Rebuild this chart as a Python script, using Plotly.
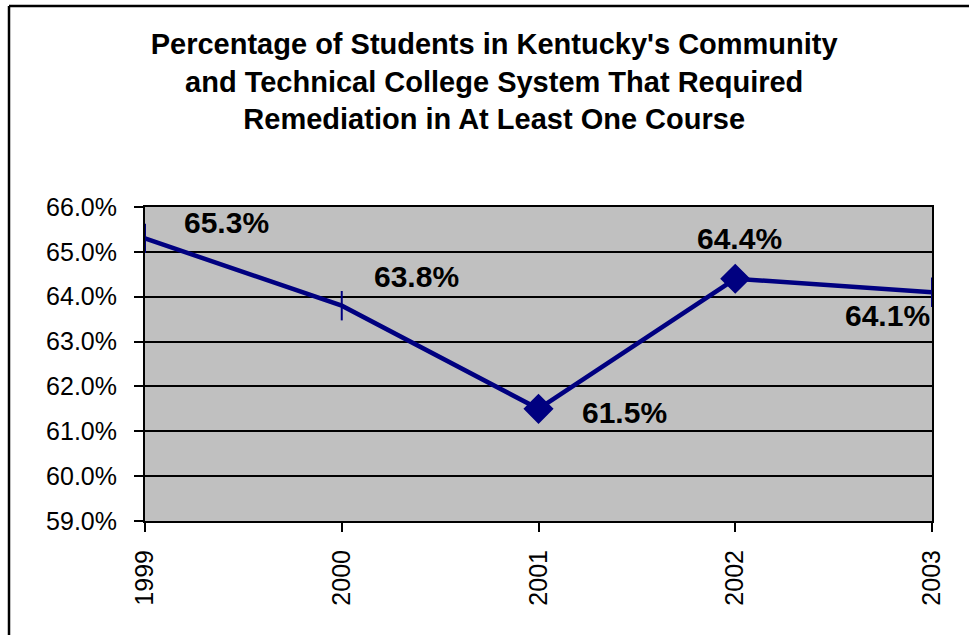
import plotly.graph_objects as go

years = ["1999", "2000", "2001", "2002", "2003"]
values = [65.3, 63.8, 61.5, 64.4, 64.1]
labels = ["65.3%", "63.8%", "61.5%", "64.4%", "64.1%"]
symbols = ["line-ns", "line-ns", "diamond", "diamond", "line-ns"]
# label offsets in pixels (x, y)
label_dx = [81, 75, 86, 4, -45]
label_dy = [16, 29, -4, 40, -23]
yticks = [59, 60, 61, 62, 63, 64, 65, 66]
ytick_text = ["59.0%", "60.0%", "61.0%", "62.0%", "63.0%", "64.0%", "65.0%", "66.0%"]

FONT = "Liberation Sans, Arial, sans-serif"
NAVY = "#000080"

x_idx = list(range(len(years)))

fig = go.Figure()
fig.add_trace(go.Scatter(
    x=x_idx, y=values, mode="lines+markers",
    line=dict(color=NAVY, width=4.5),
    marker=dict(symbol=symbols, size=21, color=NAVY,
                line=dict(color=NAVY, width=2)),
    cliponaxis=False, showlegend=False, hoverinfo="skip",
))

for xi, v, t, dx, dy in zip(x_idx, values, labels, label_dx, label_dy):
    fig.add_annotation(x=xi, y=v, xref="x", yref="y", text="<b>" + t + "</b>",
                       showarrow=False, xshift=dx, yshift=dy,
                       font=dict(family=FONT, size=30, color="black"))

# outer chart border (left + top visible)
fig.add_shape(type="line", xref="paper", yref="paper",
              x0=-0.1728, x1=-0.1728, y0=-0.4, y1=1.64,
              line=dict(color="black", width=2.5), layer="above")
fig.add_shape(type="line", xref="paper", yref="paper",
              x0=-0.1728, x1=1.06, y0=1.64, y1=1.64,
              line=dict(color="black", width=2.5), layer="above")

fig.update_layout(
    width=969, height=635,
    margin=dict(l=145, r=37, t=207, b=114),
    paper_bgcolor="white", plot_bgcolor="#C0C0C0",
    font=dict(family=FONT, color="black"),
    title=dict(
        text="<b>Percentage of Students in Kentucky's Community<br>and Technical College System That Required<br>Remediation in At Least One Course</b>",
        x=0.51, xanchor="center", xref="container",
        y=0.915, yanchor="top", yref="container",
        font=dict(family=FONT, size=29, color="black"),
    ),
    xaxis=dict(
        range=[0, 4], tickvals=x_idx, ticktext=years, showgrid=False,
        showline=True, linecolor="black", linewidth=2, mirror=True,
        ticks="outside", ticklen=9, tickwidth=2, tickcolor="black",
        tickangle=-90, tickfont=dict(family=FONT, size=25, color="black"),
        ticklabelstandoff=8, zeroline=False,
    ),
    yaxis=dict(
        range=[59, 66], tickvals=yticks, ticktext=ytick_text,
        showgrid=True, gridcolor="black", gridwidth=1.5,
        showline=True, linecolor="black", linewidth=2, mirror=True,
        ticks="outside", ticklen=9, tickwidth=2, tickcolor="black",
        tickfont=dict(family=FONT, size=25, color="black"),
        ticklabelstandoff=12, zeroline=False,
    ),
)

fig.write_html("out.html")
